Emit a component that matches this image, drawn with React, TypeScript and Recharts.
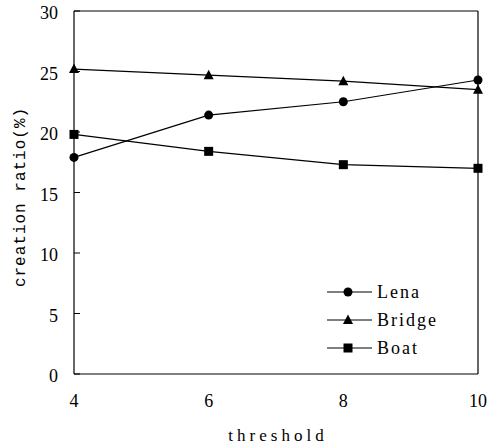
import React from 'react';
import { LineChart, Line, XAxis, YAxis, ReferenceLine, Legend, Label } from 'recharts';

const thresholds = [4, 6, 8, 10];
const lena = [17.9, 21.4, 22.5, 24.3];
const bridge = [25.2, 24.7, 24.2, 23.5];
const boat = [19.8, 18.4, 17.3, 17.0];
const xTicks = [4, 6, 8, 10];
const yTicks = [0, 5, 10, 15, 20, 25, 30];
const seriesNames = ['Lena', 'Bridge', 'Boat'];
const xTitle = 'threshold';
const yTitle = 'creation ratio(%)';

const data = thresholds.map((t, i) => ({ t, Lena: lena[i], Bridge: bridge[i], Boat: boat[i] }));

const SERIF = '"Liberation Serif", "Times New Roman", serif';
const MONO = '"Liberation Mono", "DejaVu Sans Mono", monospace';

const drawMarker = (kind: string, cx: number, cy: number, key?: any) => {
  if (kind === 'Lena') return <circle key={key} cx={cx} cy={cy} r={4.5} fill="#000" />;
  if (kind === 'Bridge')
    return <polygon key={key} points={`${cx},${cy - 5.5} ${cx - 5},${cy + 4} ${cx + 5},${cy + 4}`} fill="#000" />;
  return <rect key={key} x={cx - 4.5} y={cy - 4.5} width={9} height={9} fill="#000" />;
};

const makeDot = (kind: string) => (props: any) => {
  const { cx, cy, key, index } = props;
  if (cx == null || cy == null) return <g key={key ?? index} />;
  return drawMarker(kind, cx, cy, key ?? `${kind}-${index}`);
};

const YTick = (props: any) => {
  const { x, y, payload } = props;
  return (
    <g>
      <line x1={x} x2={x + 6} y1={y} y2={y} stroke="#000" strokeWidth={1} />
      <text x={x - 16} y={y + 2} dy="0.35em" textAnchor="end" fontFamily={SERIF} fontSize={18} fill="#000">
        {payload.value}
      </text>
    </g>
  );
};

const XTick = (props: any) => {
  const { x, y, payload } = props;
  return (
    <text x={x} y={y + 27} dy="0.35em" textAnchor="middle" fontFamily={SERIF} fontSize={18} fill="#000">
      {payload.value}
    </text>
  );
};

const LegendContent = () => (
  <div>
    {seriesNames.map((n) => (
      <div key={n} style={{ display: 'flex', alignItems: 'center', height: 28 }}>
        <svg width={46} height={14} style={{ display: 'block' }}>
          <line x1={0} x2={45} y1={7} y2={7} stroke="#000" strokeWidth={1} />
          {drawMarker(n, 21, 7)}
        </svg>
        <span style={{ fontFamily: SERIF, fontSize: 18, letterSpacing: 2, marginLeft: 4, color: '#000', lineHeight: '18px' }}>
          {n}
        </span>
      </div>
    ))}
  </div>
);

export default function App() {
  return (
    <div style={{ position: 'absolute', left: 0, top: 0, width: 490, height: 447, background: '#fff' }}>
      <LineChart width={490} height={447} data={data} margin={{ top: 11, right: 12, bottom: 0, left: 0 }}>
        <XAxis
          dataKey="t"
          type="number"
          domain={[4, 10]}
          ticks={xTicks}
          height={73}
          tickSize={0}
          tickMargin={0}
          tickLine={false}
          axisLine={{ stroke: '#000', strokeWidth: 1.2 }}
          tick={<XTick />}
        >
          <Label
            content={() => (
              <text x={278} y={435} dy="0.35em" textAnchor="middle" fontFamily={SERIF} fontSize={17} letterSpacing={4} fill="#000">
                {xTitle}
              </text>
            )}
          />
        </XAxis>
        <YAxis
          type="number"
          domain={[0, 30]}
          ticks={yTicks}
          width={74}
          tickSize={0}
          tickMargin={0}
          tickLine={false}
          axisLine={{ stroke: '#000', strokeWidth: 1.2 }}
          tick={<YTick />}
        >
          <Label
            content={() => (
              <text
                x={19}
                y={197}
                dy="0.35em"
                transform="rotate(-90 19 197)"
                textAnchor="middle"
                fontFamily={MONO}
                fontSize={16}
                letterSpacing={1}
                fill="#000"
              >
                {yTitle}
              </text>
            )}
          />
        </YAxis>
        <ReferenceLine y={30} stroke="#000" strokeWidth={1.2} />
        <ReferenceLine x={10} stroke="#000" strokeWidth={1.2} />
        <Legend
          layout="vertical"
          align="center"
          verticalAlign="middle"
          content={<LegendContent />}
          wrapperStyle={{ left: 327, top: 278, width: 120, height: 84 }}
        />
        <Line dataKey="Lena" stroke="#000" strokeWidth={1.2} isAnimationActive={false} dot={makeDot('Lena')} activeDot={false} />
        <Line dataKey="Bridge" stroke="#000" strokeWidth={1.2} isAnimationActive={false} dot={makeDot('Bridge')} activeDot={false} />
        <Line dataKey="Boat" stroke="#000" strokeWidth={1.2} isAnimationActive={false} dot={makeDot('Boat')} activeDot={false} />
      </LineChart>
    </div>
  );
}
